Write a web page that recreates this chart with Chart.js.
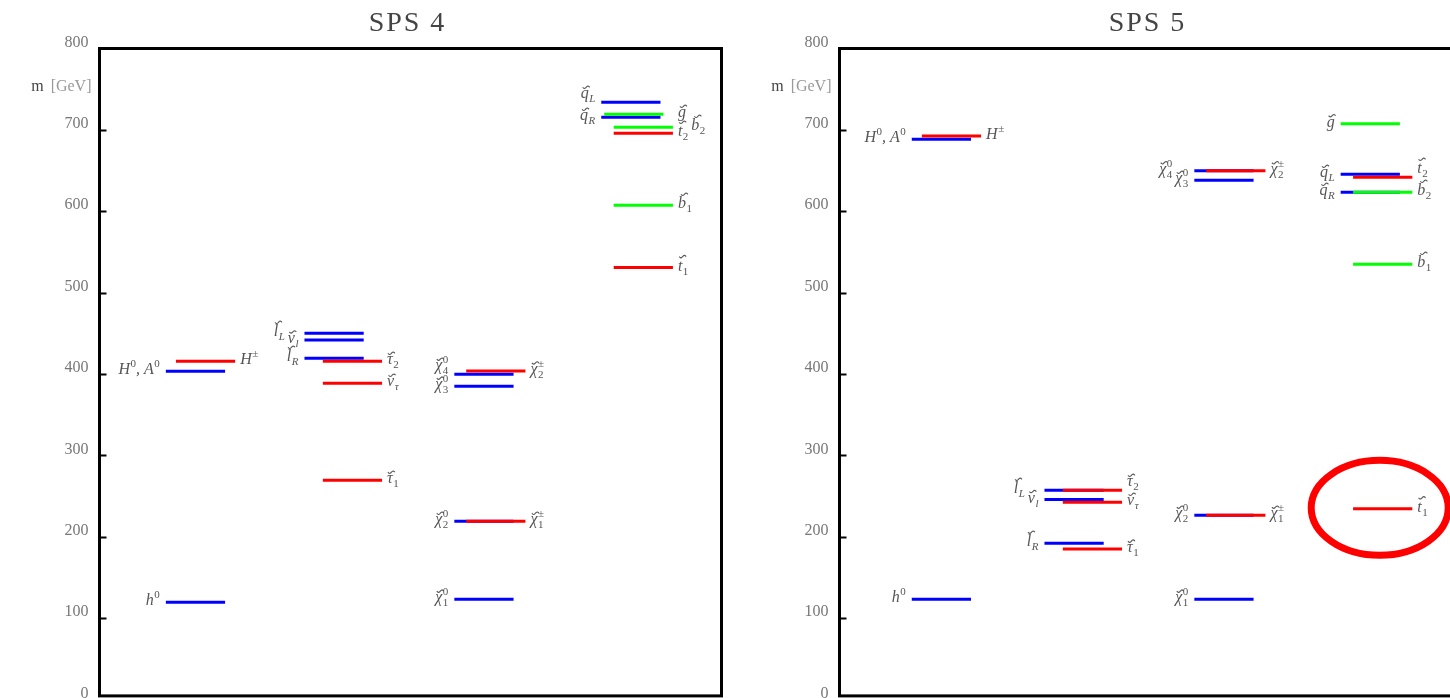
<!DOCTYPE html>
<html>
<head>
<meta charset="utf-8">
<title>SPS 4 / SPS 5 mass spectra</title>
<script src="https://cdn.jsdelivr.net/npm/chart.js@4.4.1/dist/chart.umd.min.js"></script>
<style>
  html, body { margin: 0; padding: 0; background: #fff; overflow: hidden; }
  body { width: 1450px; height: 698px; position: relative; }
  .panel { position: absolute; top: 0; width: 740px; height: 720px; }
  #panel4 { left: 0; }
  #panel5 { left: 740px; }
</style>
</head>
<body>
<div class="panel" id="panel4"><canvas id="sps4"></canvas></div>
<div class="panel" id="panel5"><canvas id="sps5"></canvas></div>
<script>
'use strict';

/// DATA
// mass axis, GeV
let massTicks = [0, 100, 200, 300, 400, 500, 600, 700, 800];
// columns: 0 Higgs, 1 sleptons, 2 gauginos, 3 squarks + gluino
let columnNames = ['Higgs', 'sleptons', 'gauginos', 'squarks'];

// SPS 4
let sps4Names = ['h^0', 'H^0, A^0', 'H^±',
  'l̃_R', 'ν̃_l', 'l̃_L', 'τ̃_1', 'ν̃_τ', 'τ̃_2',
  'χ̃_1^0', 'χ̃_2^0', 'χ̃_3^0', 'χ̃_4^0', 'χ̃_1^±', 'χ̃_2^±',
  'q̃_R', 'q̃_L', 'g̃', 'b̃_2', 't̃_2', 'b̃_1', 't̃_1'];
let sps4Mass = [119.5, 403.3, 415.6,
  419.3, 441.8, 450.0, 269.4, 388.6, 415.6,
  123.2, 219.0, 385.0, 399.7, 219.0, 403.7,
  715.5, 733.9, 719.1, 703.2, 695.8, 607.3, 530.7];
let sps4Color = ['b', 'b', 'r',
  'b', 'b', 'b', 'r', 'r', 'r',
  'b', 'b', 'b', 'b', 'r', 'r',
  'b', 'b', 'g', 'g', 'r', 'g', 'r'];
let sps4Column = [0, 0, 0,
  1, 1, 1, 1, 1, 1,
  2, 2, 2, 2, 2, 2,
  3, 3, 3, 3, 3, 3, 3];
let sps4Side = ['L', 'L', 'R',
  'L', 'L', 'L', 'R', 'R', 'R',
  'L', 'L', 'L', 'L', 'R', 'R',
  'L', 'L', 'R', 'R', 'R', 'R', 'R'];

// SPS 5
let sps5Names = ['h^0', 'H^0, A^0', 'H^±',
  'l̃_R', 'ν̃_l', 'l̃_L', 'τ̃_1', 'ν̃_τ', 'τ̃_2',
  'χ̃_1^0', 'χ̃_2^0', 'χ̃_3^0', 'χ̃_4^0', 'χ̃_1^±', 'χ̃_2^±',
  'q̃_R', 'q̃_L', 'g̃', 'b̃_2', 't̃_2', 'b̃_1', 't̃_1'];
let sps5Mass = [123.2, 688.6, 692.4,
  192.0, 245.6, 257.0, 184.7, 242.3, 257.0,
  123.2, 226.4, 638.0, 649.8, 226.4, 649.8,
  623.3, 645.4, 707.6, 623.3, 641.7, 534.8, 234.2];
let sps5Color = ['b', 'b', 'r',
  'b', 'b', 'b', 'r', 'r', 'r',
  'b', 'b', 'b', 'b', 'r', 'r',
  'b', 'b', 'g', 'g', 'r', 'g', 'r'];
let sps5Column = [0, 0, 0,
  1, 1, 1, 1, 1, 1,
  2, 2, 2, 2, 2, 2,
  3, 3, 3, 3, 3, 3, 3];
let sps5Side = ['L', 'L', 'R',
  'L', 'L', 'L', 'R', 'R', 'R',
  'L', 'L', 'L', 'L', 'R', 'R',
  'L', 'L', 'L', 'R', 'R', 'R', 'R'];
// circled level in SPS 5
let sps5Highlight = 't̃_1';

/// LAYOUT / STYLE
let palette = { b: '#0000ff', r: '#ff0000', g: '#00ff00' };
let drawOrder = { r: 0, g: 1, b: 2 };
let xMax = 10.5;            // x axis in units of one level line
let lineLength = 1;
let sps4ColStart = [1.12, 3.46, 5.99, 8.47];
let sps5ColStart = [1.22, 3.46, 5.99, 8.46];
let colShift = [0.17, 0.31, 0.2, 0.21];
let serif = '"Liberation Serif", "DejaVu Serif", serif';

// HELPERS
function levelStart(p, i) {
  let col = p.column[i];
  if (p.names[i] === 'g̃' && p.side[i] === 'R') return p.colStart[col] + 0.05;
  return p.colStart[col] + (p.side[i] === 'R' ? colShift[col] : 0);
}

function parseLabel(str) {
  let parts = [];
  let i = 0;
  while (i < str.length) {
    let c = str[i];
    if (c === '_' || c === '^') {
      parts.push({ t: str[i + 1], k: c === '_' ? 'sub' : 'sup' });
      i += 2;
    } else {
      let tilde = false;
      i++;
      while (i < str.length && str[i] === '\u0303') { tilde = true; i++; }
      parts.push({ t: c, k: 'base', tilde: tilde });
    }
  }
  return parts;
}

function scriptFont(t) {
  return (/[0-9±]/.test(t) ? '' : 'italic ') + '11px ' + serif;
}

// small wavy accent drawn by hand, the font's combining mark sits badly
function drawTilde(ctx, cx, cy) {
  ctx.save();
  ctx.strokeStyle = ctx.fillStyle;
  ctx.lineWidth = 1.1;
  ctx.beginPath();
  for (let k = 0; k <= 12; k++) {
    let dx = -3.5 + k * 7 / 12;
    let dy = -Math.sin(dx / 3.5 * Math.PI) * 1.2;
    if (k === 0) ctx.moveTo(cx + dx, cy + dy);
    else ctx.lineTo(cx + dx, cy + dy);
  }
  ctx.stroke();
  ctx.restore();
}

// lays out (and optionally draws) a label, returns its width
function renderLabel(ctx, str, x, y, draw) {
  let parts = parseLabel(str);
  let cursor = x;
  let scriptX = null;
  let scriptW = 0;
  parts.forEach(part => {
    if (part.k === 'base') {
      if (scriptX !== null) { cursor = scriptX + scriptW; scriptX = null; scriptW = 0; }
      ctx.font = 'italic 16px ' + serif;
      let w = ctx.measureText(part.t).width;
      if (draw) {
        ctx.fillText(part.t, cursor, y);
        if (part.tilde) {
          let tall = /[lbtdhk]/.test(part.t);
          drawTilde(ctx, cursor + w / 2 + (tall ? 2.5 : 1.5), y - (tall ? 14 : 11));
        }
      }
      cursor += w;
    } else {
      if (scriptX === null) { scriptX = cursor + 0.5; scriptW = 0; }
      ctx.font = scriptFont(part.t);
      if (draw) ctx.fillText(part.t, scriptX, y + (part.k === 'sub' ? 4 : -7));
      scriptW = Math.max(scriptW, ctx.measureText(part.t).width);
    }
  });
  if (scriptX !== null) cursor = scriptX + scriptW;
  return cursor - x;
}

// frame, inward ticks, title, axis name, level labels, highlight
let spectrumDecor = {
  id: 'spectrumDecor',
  afterDraw(chart, args, opts) {
    let p = opts.panel;
    let ctx = chart.ctx;
    let area = chart.chartArea;
    let xs = chart.scales.x;
    let ys = chart.scales.y;
    ctx.save();

    ctx.strokeStyle = '#000';
    ctx.lineWidth = 3;
    ctx.strokeRect(area.left, area.top, area.right - area.left, area.bottom - 3.5 - area.top);

    ctx.lineWidth = 2;
    ys.ticks.forEach(t => {
      if (t.value <= ys.min || t.value >= ys.max) return;
      let y = Math.round(ys.getPixelForValue(t.value)) + 0.5;
      ctx.beginPath();
      ctx.moveTo(area.left, y);
      ctx.lineTo(area.left + 7, y);
      ctx.stroke();
    });

    // title
    ctx.fillStyle = '#444';
    ctx.font = '28px ' + serif;
    ctx.letterSpacing = '2px';
    ctx.textAlign = 'center';
    ctx.textBaseline = 'alphabetic';
    ctx.fillText(p.title, (area.left + area.right) / 2 - 3, 31);
    ctx.letterSpacing = '0px';

    // m [GeV]
    ctx.textAlign = 'right';
    ctx.textBaseline = 'middle';
    ctx.font = '16px ' + serif;
    let ay = ys.getPixelForValue(750) - 2;
    ctx.fillStyle = '#999';
    ctx.fillText('[GeV]', area.left - 8, ay);
    let gw = ctx.measureText('[GeV]').width;
    ctx.fillStyle = '#444';
    ctx.fillText('m', area.left - 8 - gw - 7, ay);

    // level labels, stacked sideways when they crowd
    ctx.textAlign = 'left';
    ctx.textBaseline = 'alphabetic';
    ctx.fillStyle = '#555';
    let order = p.names.map((n, i) => i).sort((a, b) => p.mass[a] - p.mass[b]);
    let placed = [];
    order.forEach(i => {
      let col = p.column[i];
      let side = p.side[i];
      let y = ys.getPixelForValue(p.mass[i]);
      let x;
      if (side === 'R') {
        x = xs.getPixelForValue(p.colStart[col] + colShift[col] + lineLength) + 5;
      } else {
        x = xs.getPixelForValue(levelStart(p, i)) - 6;
      }
      let w = renderLabel(ctx, p.names[i], 0, 0, false);
      let slot = 0;
      for (;;) {
        let hit = placed.find(q => q.col === col && q.side === side && q.slot === slot && Math.abs(q.y - y) < 10);
        if (!hit) break;
        x = side === 'R' ? hit.x + hit.w + 3 : hit.x - hit.w - 3;
        slot++;
      }
      // nearly touching labels in one stack get pulled apart a little
      let near = placed.find(q => q.col === col && q.side === side && q.slot === slot && Math.abs(q.y - y) < 15);
      let shiftY = near ? -7 : 0;
      placed.push({ col: col, side: side, slot: slot, y: y, x: x, w: w });
      let left = side === 'R' ? x : x - w;
      renderLabel(ctx, p.names[i], left, y + 3 + shiftY, true);
    });

    // circled level
    if (p.highlight) {
      let i = p.names.indexOf(p.highlight);
      let cx = xs.getPixelForValue(levelStart(p, i) + lineLength / 2) - 3;
      let cy = ys.getPixelForValue(p.mass[i]) - 1;
      ctx.strokeStyle = '#ff0000';
      ctx.lineWidth = 7;
      ctx.beginPath();
      ctx.ellipse(cx, cy, 68.5, 47.5, 0, 0, Math.PI * 2);
      ctx.stroke();
    }
    ctx.restore();
  },
};

function buildDatasets(p) {
  return p.names.map((name, i) => {
    let x0 = levelStart(p, i);
    return {
      label: name,
      data: [{ x: x0, y: p.mass[i] }, { x: x0 + lineLength, y: p.mass[i] }],
      borderColor: palette[p.color[i]],
      backgroundColor: palette[p.color[i]],
      borderWidth: 3,
      borderCapStyle: 'butt',
      pointRadius: 0,
      order: drawOrder[p.color[i]],
    };
  });
}

function renderPanel(canvasId, p) {
  let ctx = document.getElementById(canvasId).getContext('2d');
  new Chart(ctx, {
    type: 'line',
    data: { datasets: buildDatasets(p) },
    options: {
      responsive: true,
      maintainAspectRatio: false,
      animation: false,
      events: [],
      layout: { padding: { left: 0, right: 18.5, top: 48.5, bottom: 20.4 } },
      scales: {
        x: { type: 'linear', min: 0, max: xMax, display: false },
        y: {
          type: 'linear',
          min: 0,
          max: 800,
          afterBuildTicks: (scale) => { scale.ticks = massTicks.map(v => ({ value: v })); },
          afterFit: (scale) => { scale.width = 99.5; },
          grid: { display: false, drawTicks: false },
          border: { display: false },
          ticks: { color: '#777', font: { family: serif, size: 16 }, padding: 11, labelOffset: -6 },
        },
      },
      plugins: {
        legend: { display: false },
        tooltip: { enabled: false },
        spectrumDecor: { panel: p },
      },
    },
    plugins: [spectrumDecor],
  });
}

//EXECUTABLE CODE
renderPanel('sps4', {
  title: 'SPS 4', names: sps4Names, mass: sps4Mass, color: sps4Color,
  column: sps4Column, side: sps4Side, colStart: sps4ColStart, highlight: null,
});
renderPanel('sps5', {
  title: 'SPS 5', names: sps5Names, mass: sps5Mass, color: sps5Color,
  column: sps5Column, side: sps5Side, colStart: sps5ColStart, highlight: sps5Highlight,
});
</script>
</body>
</html>
